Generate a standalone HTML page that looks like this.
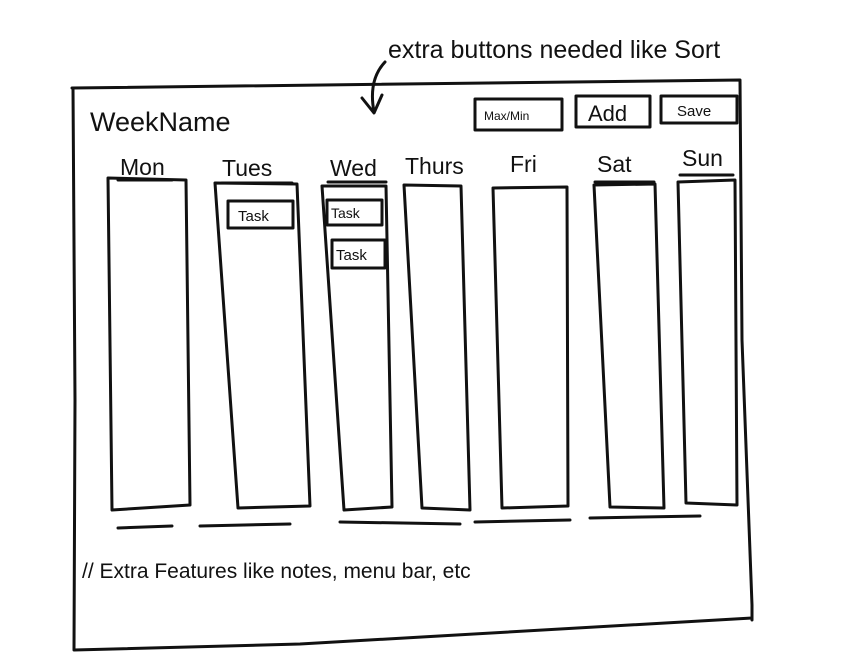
<!DOCTYPE html>
<html><head><meta charset="utf-8"><style>
html,body{margin:0;padding:0;background:#fff;}
svg{display:block;}
text{font-family:"Liberation Sans",sans-serif;fill:#111;}
</style></head><body>
<svg width="845" height="663" viewBox="0 0 845 663">
<g fill="none" stroke="#111" stroke-width="3" stroke-linecap="round" stroke-linejoin="round">
  <path d="M72 88 L740 80 L742 340 L752 605 L752 620 M73 88 L75 400 L74 650 L300 644 L752 618"/>
  <path d="M385 62 Q368 80 374 112 M362 98 L374 113 L382 95"/>
  <rect x="475" y="99" width="87" height="31"/>
  <rect x="576" y="96" width="74" height="31"/>
  <rect x="661" y="96" width="76" height="27"/>
  <path d="M108 178 L186 180 L190 505 L112 510 Z"/>
  <path d="M215 183 L297 184 L310 506 L238 508 Z"/>
  <path d="M322 186 L386 186 L392 507 L344 510 Z"/>
  <path d="M404 185 L461 186 L470 510 L422 508 Z"/>
  <path d="M493 188 L567 187 L568 506 L502 508 Z"/>
  <path d="M594 185 L655 184 L664 508 L610 507 Z"/>
  <path d="M678 182 L735 180 L737 505 L686 503 Z"/>
  <rect x="228" y="201" width="65" height="27"/>
  <rect x="327" y="200" width="55" height="25"/>
  <rect x="332" y="240" width="53" height="28"/>
  <path d="M118 180 L172 180 M222 183 L292 183 M328 182 L386 182 M595 182 L654 182 M680 175 L733 175"/>
  <path d="M118 528 L172 526 M200 526 L290 524 M340 522 L460 524 M475 522 L570 520 M590 518 L700 516"/>
</g>
<text x="388" y="58" font-size="25">extra buttons needed like Sort</text>
<text x="90" y="131" font-size="27">WeekName</text>
<text x="484" y="120" font-size="12">Max/Min</text>
<text x="588" y="121" font-size="22">Add</text>
<text x="677" y="116" font-size="15">Save</text>
<text x="120" y="175" font-size="23">Mon</text>
<text x="222" y="176" font-size="23">Tues</text>
<text x="330" y="176" font-size="23">Wed</text>
<text x="405" y="174" font-size="23">Thurs</text>
<text x="510" y="172" font-size="23">Fri</text>
<text x="597" y="172" font-size="23">Sat</text>
<text x="682" y="166" font-size="23">Sun</text>
<text x="238" y="221" font-size="15">Task</text>
<text x="331" y="218" font-size="14">Task</text>
<text x="336" y="260" font-size="15">Task</text>
<text x="82" y="578" font-size="21">// Extra Features like notes, menu bar, etc</text>
</svg>
</body></html>
